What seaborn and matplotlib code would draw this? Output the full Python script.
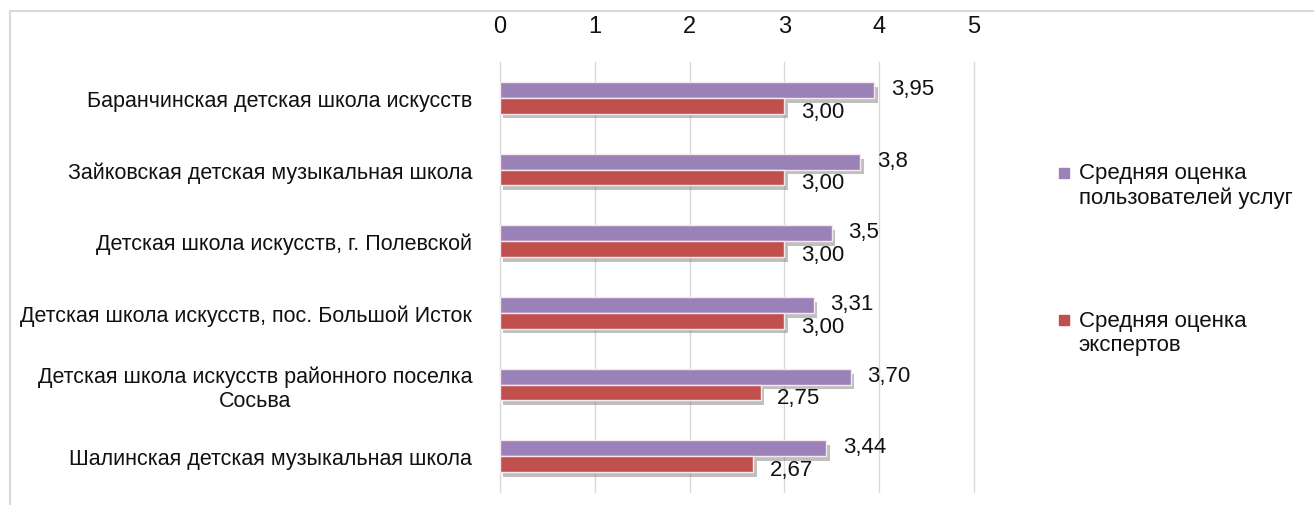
import matplotlib
matplotlib.use('Agg')
import matplotlib.pyplot as plt
import seaborn as sns
import pandas as pd
from matplotlib import patheffects as pe
from matplotlib.lines import Line2D

categories = [
    "Баранчинская детская школа искусств",
    "Зайковская детская музыкальная школа",
    "Детская школа искусств, г. Полевской",
    "Детская школа искусств, пос. Большой Исток",
    "Детская школа искусств районного поселка\nСосьва",
    "Шалинская детская музыкальная школа",
]
series_names = ["Средняя оценка\nпользователей услуг", "Средняя оценка\nэкспертов"]
users = [3.95, 3.8, 3.5, 3.31, 3.70, 3.44]
experts = [3.00, 3.00, 3.00, 3.00, 2.75, 2.67]
users_labels = ["3,95", "3,8", "3,5", "3,31", "3,70", "3,44"]
experts_labels = ["3,00", "3,00", "3,00", "3,00", "2,75", "2,67"]
x_ticks = [0, 1, 2, 3, 4, 5]
colors = ["#9A81B8", "#C0504D"]

sns.set_theme(style="white")
plt.rcParams['font.family'] = ['Liberation Sans', 'DejaVu Sans']

df = pd.DataFrame({
    "category": categories * 2,
    "value": users + experts,
    "series": [series_names[0]] * len(categories) + [series_names[1]] * len(categories),
})

W, H = 1314, 506
fig = plt.figure(figsize=(W / 100, H / 100), dpi=100)
ax = fig.add_axes([500 / W, 13 / H, 474 / W, 430 / H])

sns.barplot(data=df, y="category", x="value", hue="series", hue_order=series_names,
            palette=colors, width=0.44, orient="h", ax=ax, saturation=1,
            edgecolor="#F6E8EE", linewidth=1, legend=False)

for patch in ax.patches:
    patch.set_path_effects([
        pe.SimplePatchShadow(offset=(2.5, -3.5), shadow_rgbFace="#606060", alpha=0.4),
        pe.Normal(),
    ])

anns_u = ax.bar_label(ax.containers[0], labels=users_labels, padding=12, fontsize=16)
anns_e = ax.bar_label(ax.containers[1], labels=experts_labels, padding=12, fontsize=16)
for a in anns_u:
    a.xyann = (12, 1)
for a in anns_e:
    a.xyann = (12, -4)
for a in list(anns_u) + list(anns_e):
    a.set_color("#111111")

ax.set_xlim(0, 5)
ax.set_xticks(x_ticks)
ax.xaxis.tick_top()
ax.grid(axis="x", color="#D9D9D9", linewidth=1)
ax.grid(axis="y", visible=False)
for gl in ax.get_xgridlines():
    gl.set_clip_on(False)
ax.set_axisbelow(True)
for s in ax.spines.values():
    s.set_visible(False)
ax.tick_params(axis="x", length=0, pad=18, labelsize=17, labelcolor="#111111")
ax.tick_params(axis="y", length=0, pad=20, labelsize=15.5, labelcolor="#111111")
for t in ax.get_yticklabels():
    t.set_multialignment("center")
ax.set_xlabel("")
ax.set_ylabel("")

# outer frame
fig.add_artist(Line2D([10 / W, 10 / W], [0, 1 - 12 / H], transform=fig.transFigure,
                      color="#D9D9D9", lw=1.5))
fig.add_artist(Line2D([10 / W, 1], [1 - 12 / H, 1 - 12 / H], transform=fig.transFigure,
                      color="#D9D9D9", lw=1.5))

handles = [Line2D([], [], marker="s", color=c, linestyle="", markersize=7.5) for c in colors]
leg = fig.legend(handles, series_names, loc="upper left", bbox_to_anchor=(1053 / W, 1 - 163 / H),
                 frameon=False, fontsize=16, labelspacing=4.6, handletextpad=0.15,
                 borderpad=0, borderaxespad=0, handlelength=1)
for t in leg.get_texts():
    t.set_color("#111111")
for h in leg.legend_handles:
    h.set_ydata([y + 9 for y in h.get_ydata()])

fig.savefig("out.png", dpi=100)
